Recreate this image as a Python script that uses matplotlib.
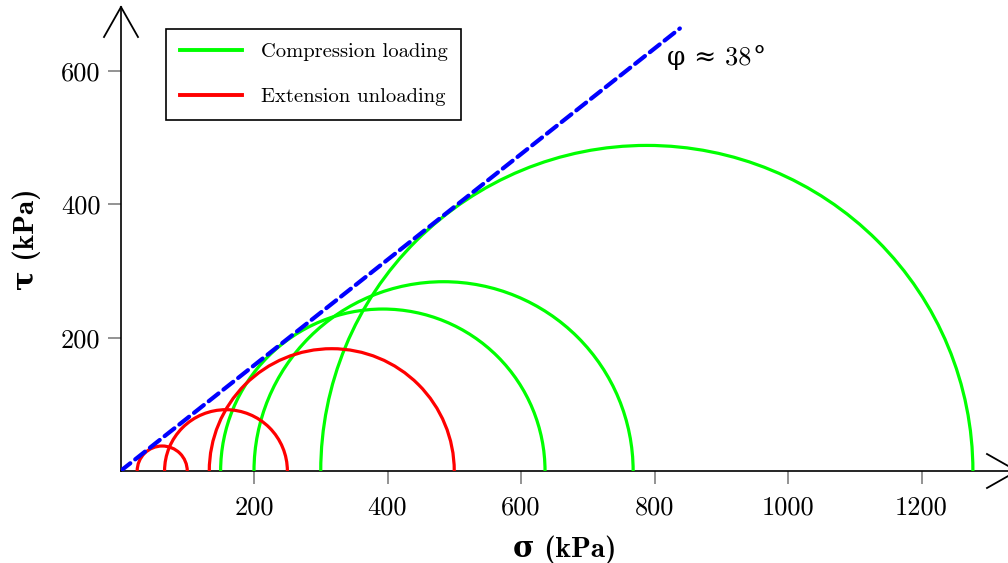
import matplotlib
matplotlib.use("Agg")
import matplotlib.pyplot as plt
from matplotlib.patches import Arc
from matplotlib.lines import Line2D

plt.rcParams['mathtext.fontset'] = 'cm'

# ---- data (kPa) ----
comp_sigma3 = [150, 200, 300]
comp_sigma1 = [636, 768, 1277]
ext_sigma3 = [25, 66, 133]
ext_sigma1 = [100, 250, 500]
env_sigma = [0, 838]
env_tau = [0, 664]
xticks = [200, 400, 600, 800, 1000, 1200]
yticks = [200, 400, 600]
phi_label = "φ ≈ 38"
phi_deg = "°"

W, H = 1008, 563
fig = plt.figure(figsize=(W / 100, H / 100), dpi=100)

x0px, y0px = 120.5, 471.0
right_px, top_px = 1008.0, 8.0
sx = 200 / 133.5  # kPa per px
sy = 200 / 133.3
ax = fig.add_axes([x0px / W, (H - y0px) / H, (right_px - x0px) / W, (y0px - top_px) / H])
ax.set_xlim(0, (right_px - x0px) * sx)
ax.set_ylim(0, (y0px - top_px) * sy)

serif = ['cmr10', 'DejaVu Serif']
bold = ['cmb10', 'DejaVu Serif']

green = '#00ff00'
red = '#ff0000'
for s3, s1 in zip(comp_sigma3, comp_sigma1):
    c, r = (s3 + s1) / 2, (s1 - s3) / 2
    ax.add_patch(Arc((c, 0), 2 * r, 2 * r, theta1=0, theta2=180, color=green, lw=2.3, zorder=3))
for s3, s1 in zip(ext_sigma3, ext_sigma1):
    c, r = (s3 + s1) / 2, (s1 - s3) / 2
    ax.add_patch(Arc((c, 0), 2 * r, 2 * r, theta1=0, theta2=180, color=red, lw=2.3, zorder=3))

ax.plot(env_sigma, env_tau, color='#0000ff', lw=3, linestyle=(0, (3.0, 1.5)), zorder=4,
        dash_capstyle='round')

t1 = ax.text(819, 609, phi_label, fontsize=19, family=serif, ha='left', va='baseline')
t2 = ax.annotate(phi_deg, xy=(1, 0), xycoords=t1, xytext=(0.5, 0), textcoords='offset points',
                 fontsize=19, family=['DejaVu Serif'], ha='left', va='bottom')

for s in ['top', 'right']:
    ax.spines[s].set_visible(False)
for s in ['left', 'bottom']:
    ax.spines[s].set_linewidth(1.2)
    ax.spines[s].set_color('black')

ax.set_xticks(xticks)
ax.set_yticks(yticks)
ax.set_xticklabels([str(v) for v in xticks], family=serif, fontsize=19)
ax.set_yticklabels([str(v) for v in yticks], family=serif, fontsize=19)
ax.tick_params(direction='out', length=9.5, width=1.2, color='#808080')
ax.tick_params(axis='x', pad=8)
ax.tick_params(axis='y', pad=5)

ax.set_xlabel('σ (kPa)', family=bold, fontsize=21, fontweight='bold', labelpad=12)
ax.set_ylabel('τ (kPa)', family=bold, fontsize=21, fontweight='bold', labelpad=14)

handles = [Line2D([], [], color=green, lw=2.8), Line2D([], [], color=red, lw=2.8)]
leg = ax.legend(handles, ['Compression loading', 'Extension unloading'],
                loc='upper left', bbox_to_anchor=((166 - x0px) / (right_px - x0px), 1 - (29 - top_px) / (y0px - top_px)),
                prop={'family': serif, 'size': 14.8}, frameon=True, fancybox=False,
                edgecolor='black', handlelength=3.0, labelspacing=1.3, borderpad=0.68,
                handletextpad=0.92, borderaxespad=0)
leg.get_frame().set_linewidth(1.2)
leg.get_frame().set_alpha(1)

# open chevron arrowheads
def px(x, y):
    return x / W, (H - y) / H

tx, ty = 121, 7
for dx in (-17, 17):
    a, b = px(tx + dx, ty + 30)
    c, d = px(tx, ty)
    fig.add_artist(Line2D([a, c], [b, d], color='black', lw=1.3, transform=fig.transFigure))
tx, ty = 1017, 471
for dy in (-17, 17):
    a, b = px(tx - 30, ty + dy)
    c, d = px(tx, ty)
    fig.add_artist(Line2D([a, c], [b, d], color='black', lw=1.3, transform=fig.transFigure))

fig.savefig('out.png', dpi=100)
